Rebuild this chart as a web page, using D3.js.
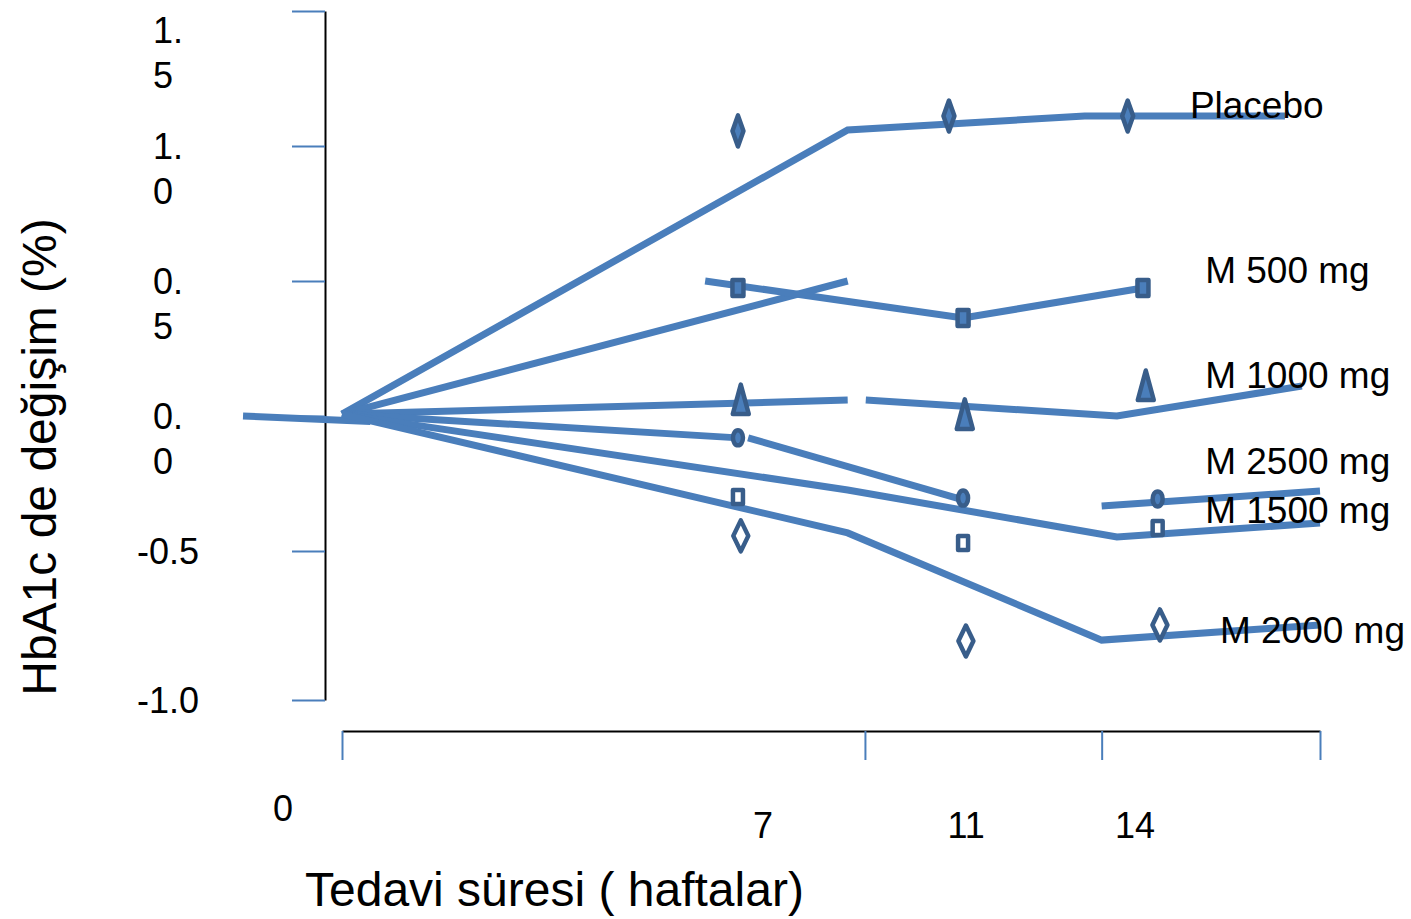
<!DOCTYPE html>
<html>
<head>
<meta charset="utf-8">
<script src="https://cdn.jsdelivr.net/npm/d3@7"></script>
<style>
  body { margin: 0; background: #fff; }
  svg { display: block; }
  text { font-family: "Liberation Sans", Arial, sans-serif; fill: #000; }
</style>
</head>
<body>
<svg id="chart" width="1411" height="919"></svg>
<script>
// HbA1c change (%) over weeks of treatment, placebo vs. metformin doses

const yTicks = [1.5, 1.0, 0.5, 0.0, -0.5, -1.0];
const yTickLabels = [["1.", "5"], ["1.", "0"], ["0.", "5"], ["0.", "0"], ["-0.5"], ["-1.0"]];
const xTicks = [0, 7, 11, 14];
const xTickLabels = ["0", "7", "11", "14"];
const xDividers = [0, 9.245, 13.43, 17.29];

const seriesNames = ["Placebo", "M 500 mg", "M 1000 mg", "M 2500 mg", "M 1500 mg", "M 2000 mg"];

// trend lines: each series is a list of separate runs of [week, change]
const placeboRuns = [[[0, 0.007], [8.94, 1.059], [13.13, 1.111], [16.67, 1.111]]];
const m500Runs = [[[0, 0.007], [8.94, 0.5]], [[6.42, 0.5], [10.98, 0.363], [14.16, 0.474]]];
const m1000Runs = [[[0, 0.007], [8.94, 0.059]], [[9.26, 0.059], [13.70, 0.0], [16.97, 0.111]]];
const m2500Runs = [[[0, 0.007], [7.0, -0.081]], [[7.18, -0.081], [10.98, -0.311]], [[13.43, -0.333], [17.29, -0.278]]];
const m1500Runs = [[[0, 0.007], [8.94, -0.274], [13.70, -0.448], [17.29, -0.396]]];
const m2000Runs = [[[0, 0.007], [8.94, -0.433], [13.43, -0.799], [17.29, -0.748]]];
const leadIn = [[-1.75, 0.0], [0.5, -0.02]];

// measured points: [week, change]
const placeboMarks = [[7.0, 1.056], [10.73, 1.111], [13.89, 1.111]];
const m500Marks = [[7.0, 0.474], [10.98, 0.363], [14.16, 0.474]];
const m1000Marks = [[7.05, 0.059], [11.01, 0.004], [14.21, 0.111]];
const m2500Marks = [[7.0, -0.081], [10.98, -0.304], [14.42, -0.307]];
const m1500Marks = [[7.0, -0.30], [10.98, -0.470], [14.42, -0.415]];
const m2000Marks = [[7.05, -0.444], [11.03, -0.802], [14.46, -0.748]];

const seriesRuns = [placeboRuns, m500Runs, m1000Runs, m2500Runs, m1500Runs, m2000Runs];
const seriesMarks = [placeboMarks, m500Marks, m1000Marks, m2500Marks, m1500Marks, m2000Marks];

// ---- layout & style ----
const LINE = "#4a7ebb", EDGE = "#385d8a";
const markerKinds = ["thinDiamond", "bar", "triangle", "oval", "openBar", "openDiamond"];
// where each series name sits, in [week, change]
const nameSpots = [[14.99, 1.152], [15.26, 0.541], [15.26, 0.152], [15.26, -0.167], [15.26, -0.348], [15.52, -0.765]];
const xLabelNudge = [-59, 25, 2, 1];

const svg = d3.select("#chart");
const x = d3.scaleLinear().domain([xDividers[0], xDividers[3]]).range([342, 1320]);
const y = d3.scaleLinear().domain([-1, -0.5, 1.5]).range([700, 551, 11]);

// y axis
const yAxis = svg.append("g").attr("transform", "translate(325,0)")
  .call(d3.axisLeft(y).tickValues(yTicks).tickSize(33).tickSizeOuter(0).tickFormat(""));
yAxis.select(".domain").attr("stroke", "#000").attr("stroke-width", 2);
yAxis.selectAll(".tick line").attr("stroke", LINE).attr("stroke-width", 2);

// x axis
const xAxis = svg.append("g").attr("transform", "translate(0,731)")
  .call(d3.axisBottom(x).tickValues(xDividers).tickSize(29).tickSizeOuter(0).tickFormat(""));
xAxis.select(".domain").attr("stroke", "#000").attr("stroke-width", 2);
xAxis.selectAll(".tick line").attr("stroke", LINE).attr("stroke-width", 2);

// lines
const line = d3.line().x(d => x(d[0])).y(d => y(d[1]));
const lineG = svg.append("g").attr("fill", "none").attr("stroke", LINE)
  .attr("stroke-width", 7).attr("stroke-linejoin", "miter");
lineG.append("path").attr("d", line(leadIn));
seriesRuns.forEach(runs => runs.forEach(run => lineG.append("path").attr("d", line(run))));

// markers
function markerPath(kind) {
  const p = d3.path();
  if (kind === "thinDiamond" || kind === "openDiamond") {
    const w = kind === "thinDiamond" ? 5.5 : 7.5, h = 15.5;
    p.moveTo(0, -h); p.lineTo(w, 0); p.lineTo(0, h); p.lineTo(-w, 0); p.closePath();
  } else if (kind === "bar") {
    p.rect(-5.5, -8, 11, 16);
  } else if (kind === "openBar") {
    p.rect(-5, -7, 10, 14);
  } else if (kind === "triangle") {
    p.moveTo(0, -15.5); p.lineTo(8, 14); p.lineTo(-8, 14); p.closePath();
  }
  return p.toString();
}
const openKinds = new Set(["openBar", "openDiamond"]);
seriesMarks.forEach((marks, i) => {
  const kind = markerKinds[i];
  const g = svg.append("g");
  const sel = g.selectAll("g").data(marks).join("g")
    .attr("transform", d => `translate(${x(d[0])},${y(d[1])})`);
  const shape = kind === "oval"
    ? sel.append("ellipse").attr("rx", 5).attr("ry", 7.5)
    : sel.append("path").attr("d", markerPath(kind));
  shape.attr("fill", openKinds.has(kind) ? "#fff" : LINE)
    .attr("stroke", EDGE).attr("stroke-width", 4.5).attr("stroke-linejoin", "round");
});

// series names
svg.append("g").selectAll("text").data(seriesNames).join("text")
  .attr("x", (d, i) => x(nameSpots[i][0]))
  .attr("y", (d, i) => y(nameSpots[i][1]))
  .attr("dy", "0.36em")
  .attr("font-size", 37)
  .text(d => d);

// y tick labels (narrow boxes wrap after the decimal point)
yTicks.forEach((v, i) => {
  const lines = yTickLabels[i];
  const top = Math.max(y(v), 30);
  const t = svg.append("text").attr("font-size", 36);
  lines.forEach((s, k) => t.append("tspan").attr("y", top + k * 45).attr("dy", "0.36em").text(s));
  const widths = t.selectAll("tspan").nodes().map(n => n.getComputedTextLength());
  const left = 168 - d3.max(widths) / 2;
  t.selectAll("tspan").attr("x", left);
});

// x tick labels
svg.append("g").selectAll("text").data(xTicks).join("text")
  .attr("x", (d, i) => x(d) + xLabelNudge[i])
  .attr("y", (d, i) => i === 0 ? 808 : 825)
  .attr("dy", "0.36em")
  .attr("text-anchor", "middle")
  .attr("font-size", 36)
  .text((d, i) => xTickLabels[i]);

// axis titles
svg.append("text")
  .attr("x", 305).attr("y", 906)
  .attr("font-size", 48)
  .text("Tedavi süresi ( haftalar)");
svg.append("text")
  .attr("transform", "translate(56,457) rotate(-90)")
  .attr("text-anchor", "middle")
  .attr("font-size", 48)
  .text("HbA1c de değişim (%)");
</script>
</body>
</html>
